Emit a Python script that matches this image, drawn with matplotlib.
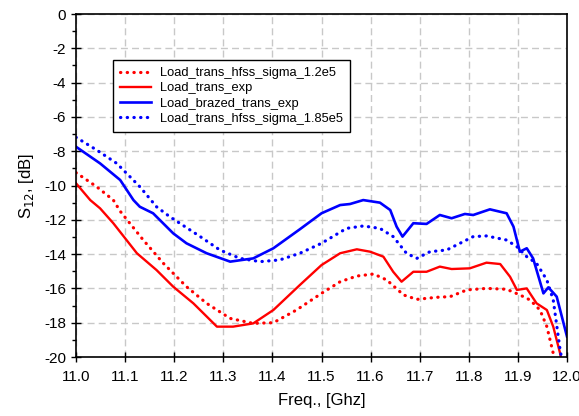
import numpy as np
import matplotlib.pyplot as plt
from matplotlib.ticker import MultipleLocator

plt.rcParams['font.family'] = ['Liberation Sans', 'DejaVu Sans']
plt.rcParams['axes.unicode_minus'] = False

# Load_trans_hfss_sigma_1.2e5 (red dotted)
f_rd = [11.0, 11.042, 11.076, 11.09, 11.137, 11.178, 11.225, 11.266, 11.314, 11.361, 11.402,
        11.449, 11.5, 11.538, 11.572, 11.606, 11.633, 11.667, 11.694, 11.734, 11.762, 11.796,
        11.836, 11.877, 11.904, 11.925, 11.945, 11.959, 11.972, 11.98]
s_rd = [-9.25, -10.07, -10.85, -11.5, -13.18, -14.54, -15.9, -16.87, -17.75, -18.04, -18.0,
        -17.26, -16.29, -15.61, -15.28, -15.16, -15.51, -16.38, -16.64, -16.52, -16.48, -16.09,
        -16.0, -16.05, -16.38, -16.68, -17.26, -18.23, -19.79, -20.5]

# Load_trans_exp (red solid)
f_r = [11.0, 11.029, 11.049, 11.076, 11.124, 11.164, 11.198, 11.239, 11.287, 11.32, 11.361,
       11.402, 11.456, 11.5, 11.538, 11.572, 11.599, 11.626, 11.646, 11.663, 11.687, 11.714,
       11.741, 11.765, 11.802, 11.836, 11.864, 11.884, 11.898, 11.918, 11.938, 11.959, 11.972,
       11.986, 11.99]
s_r = [-9.87, -10.85, -11.33, -12.2, -13.95, -14.93, -15.9, -16.87, -18.23, -18.23, -18.04,
       -17.26, -15.8, -14.64, -13.95, -13.72, -13.86, -14.15, -15.03, -15.61, -15.03, -15.03,
       -14.73, -14.87, -14.83, -14.5, -14.58, -15.32, -16.09, -16.0, -16.87, -17.26, -18.23,
       -19.79, -20.5]

# Load_brazed_trans_exp (blue solid)
f_b = [11.0, 11.049, 11.09, 11.117, 11.13, 11.157, 11.198, 11.225, 11.266, 11.314, 11.361,
       11.402, 11.456, 11.5, 11.538, 11.558, 11.585, 11.619, 11.64, 11.653, 11.665, 11.687,
       11.714, 11.741, 11.765, 11.792, 11.809, 11.843, 11.877, 11.891, 11.904, 11.918, 11.931,
       11.952, 11.962, 11.979, 12.0]
s_b = [-7.74, -8.71, -9.68, -10.85, -11.24, -11.62, -12.79, -13.37, -13.95, -14.44, -14.25,
       -13.66, -12.55, -11.62, -11.14, -11.08, -10.85, -11.0, -11.43, -12.4, -12.98, -12.2,
       -12.24, -11.72, -11.91, -11.66, -11.72, -11.39, -11.62, -12.4, -13.86, -13.66, -14.25,
       -16.29, -15.94, -16.48, -18.81]

# Load_trans_hfss_sigma_1.85e5 (blue dotted)
f_bd = [11.0, 11.042, 11.083, 11.13, 11.164, 11.191, 11.253, 11.293, 11.334, 11.375, 11.415,
        11.456, 11.5, 11.551, 11.585, 11.619, 11.646, 11.673, 11.694, 11.721, 11.755, 11.782,
        11.809, 11.836, 11.877, 11.898, 11.918, 11.938, 11.959, 11.972, 11.986, 11.992]
s_bd = [-7.19, -7.93, -8.71, -10.07, -11.24, -11.82, -12.98, -13.76, -14.25, -14.44, -14.34,
        -13.95, -13.37, -12.5, -12.36, -12.5, -12.98, -13.95, -14.25, -13.86, -13.76, -13.37,
        -12.98, -12.94, -13.18, -13.57, -14.15, -14.54, -15.51, -16.68, -19.6, -20.5]

labels = ['Load_trans_hfss_sigma_1.2e5', 'Load_trans_exp',
          'Load_brazed_trans_exp', 'Load_trans_hfss_sigma_1.85e5']

fig = plt.figure(figsize=(5.79, 4.16), dpi=100)
ax = fig.add_axes([76 / 579, 1 - 357 / 416, 491 / 579, 343 / 416])

dot = (0, (0.1, 2.0))
ax.plot(f_rd, s_rd, color='#ff0000', lw=2.3, ls=dot, dash_capstyle='round', label=labels[0])
ax.plot(f_r, s_r, color='#ff0000', lw=1.7, label=labels[1])
ax.plot(f_b, s_b, color='#0000ff', lw=1.9, label=labels[2])
ax.plot(f_bd, s_bd, color='#0000ff', lw=2.3, ls=dot, dash_capstyle='round', label=labels[3])

ax.set_xlim(11.0, 12.0)
ax.set_ylim(-20, 0)
ax.xaxis.set_major_locator(MultipleLocator(0.1))
ax.yaxis.set_major_locator(MultipleLocator(2))
ax.yaxis.set_minor_locator(MultipleLocator(1))
ax.xaxis.set_major_formatter(plt.FormatStrFormatter('%.1f'))
ax.tick_params(which='major', direction='inout', length=7, width=1, labelsize=11)
ax.tick_params(axis='x', pad=6)
ax.tick_params(axis='y', which='minor', direction='out', length=3, width=1)
ax.grid(True, which='major', ls=(0, (5, 3)), color='#c8c8c8', lw=1)
for s in ax.spines.values():
    s.set_linewidth(1.2)

ax.set_xlabel('Freq., [Ghz]', fontsize=12, labelpad=6)
ax.set_ylabel('S$_{12}$, [dB]', fontsize=12, labelpad=6)

leg = ax.legend(loc='upper left', bbox_to_anchor=(37 / 491, 1 - 46 / 343), fontsize=9.3,
                fancybox=False, framealpha=1, edgecolor='black', handlelength=2.4,
                handletextpad=0.7, borderpad=0.55, labelspacing=0.25, borderaxespad=0)
leg.get_frame().set_linewidth(1)

fig.savefig('out.png', dpi=100)
